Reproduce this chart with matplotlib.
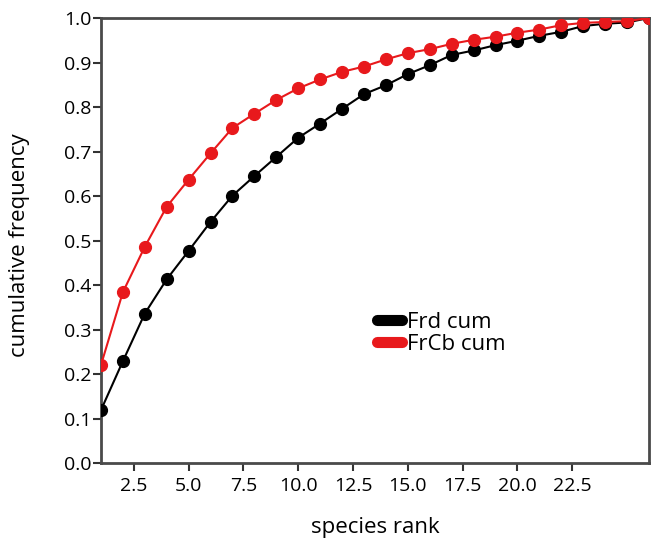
import numpy as np
import matplotlib
matplotlib.use("Agg")
import matplotlib.pyplot as plt

plt.rcParams['font.family'] = ['Open Sans', 'DejaVu Sans']

# species rank and cumulative frequencies
rank = list(range(1, 27))
frd_cum = [0.119, 0.229, 0.336, 0.413, 0.477, 0.542, 0.601, 0.645, 0.688, 0.731,
           0.763, 0.796, 0.829, 0.849, 0.874, 0.894, 0.917, 0.927, 0.939, 0.949,
           0.960, 0.969, 0.982, 0.987, 0.990, 1.000]
frcb_cum = [0.220, 0.384, 0.486, 0.576, 0.637, 0.696, 0.753, 0.785, 0.816, 0.842,
            0.862, 0.879, 0.891, 0.907, 0.921, 0.930, 0.942, 0.951, 0.958, 0.967,
            0.974, 0.984, 0.989, 0.991, 0.993, 1.000]
xticks = [2.5, 5.0, 7.5, 10.0, 12.5, 15.0, 17.5, 20.0, 22.5]
yticks = [0.0, 0.1, 0.2, 0.3, 0.4, 0.5, 0.6, 0.7, 0.8, 0.9, 1.0]

fig = plt.figure(figsize=(6.51, 5.45), dpi=100)
ax = fig.add_axes([0.155, 0.15, 0.842, 0.817])

red = '#e8191c'
ax.plot(rank, frd_cum, color='black', lw=1.5, marker='o', ms=8.5, label='Frd cum', zorder=3)
ax.plot(rank, frcb_cum, color=red, lw=1.5, marker='o', ms=8.5, label='FrCb cum', zorder=4)

ax.set_xlim(1, 26)
ax.set_ylim(0, 1.0)
ax.set_xticks(xticks)
ax.set_xticklabels(['%.1f' % t for t in xticks])
ax.set_yticks(yticks)
ax.set_yticklabels(['%.1f' % t for t in yticks])

for s in ax.spines.values():
    s.set_color('#4a4a4a')
    s.set_linewidth(2)
ax.tick_params(direction='out', length=6, width=1.5, color='#333333', labelsize=14, pad=1)
ax.tick_params(axis='x', pad=4)

ax.set_xlabel('species rank', fontsize=16)
ax.xaxis.set_label_coords(0.5, -0.12)
ax.set_ylabel('cumulative frequency', fontsize=16)
ax.yaxis.set_label_coords(-0.13, 0.49)

leg = ax.legend(loc='upper left', bbox_to_anchor=(0.488, 0.36), frameon=False,
                fontsize=16, handlelength=1.1, handletextpad=0.25, labelspacing=0.05,
                borderaxespad=0)
for h in leg.get_lines():
    h.set_linewidth(8)
    h.set_marker('')
    h.set_solid_capstyle('round')

fig.savefig('out.png', dpi=100)
